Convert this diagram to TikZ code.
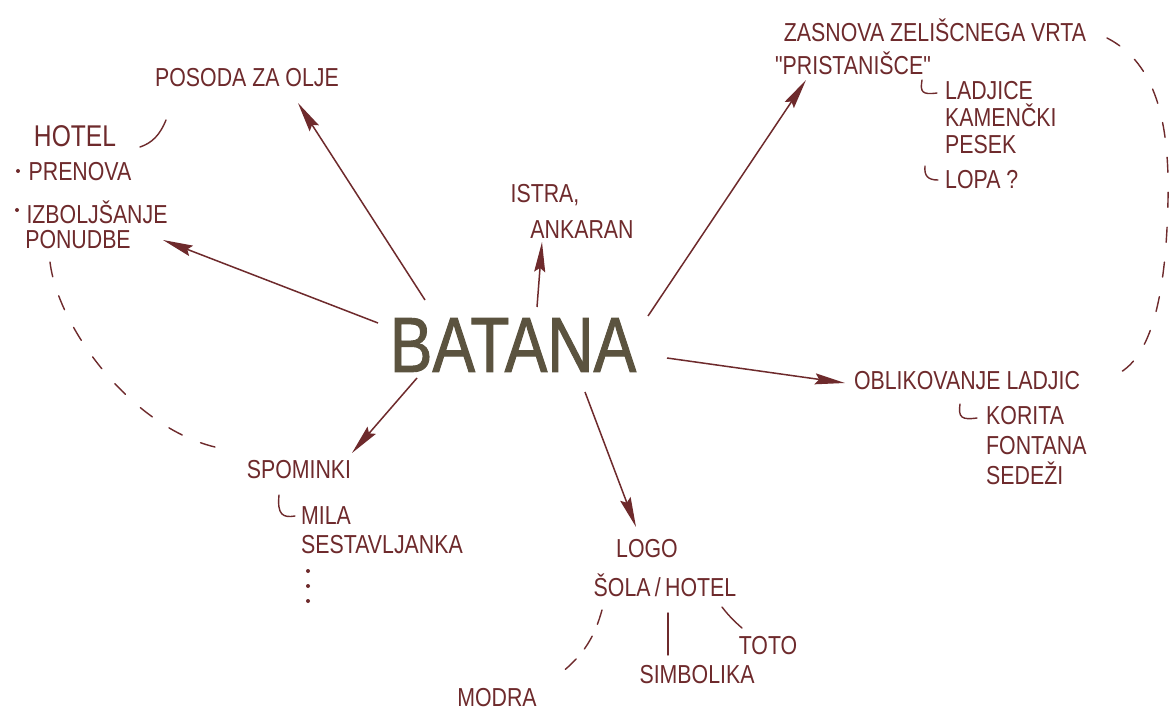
\documentclass[tikz,border=0pt]{standalone}
\usepackage{fontspec}
\setmainfont{Liberation Sans}[FakeStretch=0.82]
\newfontfamily\bigfont{Liberation Sans}[FakeStretch=0.82,FakeBold=1.2]
\newfontfamily\qfont{Liberation Sans}[FakeStretch=0.82,Ligatures=TeXOff]
\usetikzlibrary{arrows.meta}
\definecolor{ink}{HTML}{6E2A2C}
\definecolor{olive}{HTML}{5B533F}
\begin{document}
\begin{tikzpicture}[x=1pt,y=-1pt,
  lbl/.style={text=ink, font=\fontsize{26}{28}\selectfont, inner sep=1pt},
  lst/.style={lbl, align=left, anchor=north west, font=\fontsize{26}{27}\selectfont},
  arr/.style={draw=ink, line width=1.5pt, -{Stealth[length=30pt,width=11pt,inset=4pt]}},
  dsh/.style={draw=ink, line width=1.4pt, dash pattern=on 15pt off 20pt, line cap=round},
  ln/.style={draw=ink, line width=1.4pt, line cap=round},
  dotm/.style={fill=ink, circle, inner sep=0pt, minimum size=4pt}]
\fill[white] (0,0) rectangle (1175,711);
\useasboundingbox (0,0) rectangle (1175,711);

% central node
\node[text=olive, font=\bigfont\fontsize{78}{78}\selectfont, inner sep=0pt] (batana) at (513,345) {BATANA};

% labels
\node[lbl] (posoda) at (247,78) {POSODA ZA OLJE};
\node[lbl, font=\fontsize{30}{30}\selectfont] (hotel) at (75,136) {HOTEL};
\node[lbl] (prenova) at (80,172) {PRENOVA};
\node[lbl] (izb) at (97,212) {IZBOLJŠANJE};
\node[lbl] (ponudbe) at (78,240) {PONUDBE};
\node[dotm] (b1) at (18,171) {};
\node[dotm] (b2) at (17,210) {};
\node[lbl] (istra) at (545,195) {ISTRA,};
\node[lbl] (ankaran) at (582,230) {ANKARAN};
\node[lbl] (zasnova) at (935,30) {ZASNOVA ZELIŠCNEGA VRTA};
\node[lbl] (prist) at (853,63) {{\qfont"}PRISTANIŠCE{\qfont"}};
\node[lst] (ladjice) at (944,80) {LADJICE\\KAMENČKI\\PESEK};
\node[lbl, anchor=west] (lopa) at (944,180) {LOPA ?};
\node[lbl] (oblik) at (967,381) {OBLIKOVANJE LADJIC};
\node[lst, font=\fontsize{26}{30}\selectfont] (korita) at (985,405) {KORITA\\FONTANA\\SEDEŽI};
\node[lbl] (spominki) at (299,470) {SPOMINKI};
\node[lst, font=\fontsize{26}{29}\selectfont] (mila) at (300,505) {MILA\\SESTAVLJANKA};
\node[dotm] (d1) at (308,571) {};
\node[dotm] (d2) at (308,586) {};
\node[dotm] (d3) at (308,601) {};
\node[lbl] (logo) at (647,549) {LOGO};
\node[lbl] (sola) at (665,585) {ŠOLA\,/\,HOTEL};
\node[lbl] (modra) at (497,698) {MODRA};
\node[lbl] (simb) at (697,675) {SIMBOLIKA};
\node[lbl] (toto) at (768,646) {TOTO};

% arrows from BATANA
\draw[arr] ([shift={(-88,-45)}]batana.center) -- ([shift={(51,25)}]posoda.center);
\draw[arr] ([shift={(-135,-22)}]batana.center) -- ([shift={(85,0)}]ponudbe.center);
\draw[arr] ([shift={(24,-38)}]batana.center) -- ([shift={(-40,12)}]ankaran.center);
\draw[arr] ([shift={(135,-29)}]batana.center) -- ([shift={(-47,17)}]prist.center);
\draw[arr] ([shift={(154,13)}]batana.center) -- ([shift={(-8,2)}]oblik.west);
\draw[arr] ([shift={(-96,33)}]batana.center) -- ([shift={(53,-17)}]spominki.center);
\draw[arr] ([shift={(72,47)}]batana.center) -- ([shift={(-11,-22)}]logo.center);

% dashed links
\draw[dsh] ([shift={(-28,22)}]ponudbe.center) .. controls (58,330) and (140,440) .. ([shift={(-67,-20)}]spominki.center);
\draw[dsh] ([shift={(172,8)}]zasnova.center) .. controls (1150,60) and (1170,110) .. (1168,200)
  .. controls (1166,300) and (1150,365) .. ([shift={(143,-4)}]oblik.center);
\draw[ln, dash pattern=on 15pt off 13pt] ([shift={(-63,25)}]sola.center) .. controls (595,635) and (585,655) .. ([shift={(60,-22)}]modra.center);
\draw[ln] ([shift={(3,28)}]sola.center) -- ([shift={(-29,-20)}]simb.center);
\draw[ln] ([shift={(57,22)}]sola.center) .. controls (728,615) and (735,622) .. ([shift={(-26,-18)}]toto.center);

% hooks
\draw[ln] ([shift={(-81,42)}]posoda.center) .. controls (160,135) and (152,143) .. ([shift={(65,11)}]hotel.center);
\draw[ln] ([shift={(-22,0)}]ladjice.north west) .. controls (920,92) and (922,95) .. ([shift={(-7,13)}]ladjice.north west);
\draw[ln] ([shift={(-19,-14)}]lopa.west) .. controls (924,176) and (928,180) .. ([shift={(-6,0)}]lopa.west);
\draw[ln] ([shift={(-25,-1)}]korita.north west) .. controls (958,418) and (962,420) .. ([shift={(-8,13)}]korita.north west);
\draw[ln] ([shift={(-21,-10)}]mila.north west) .. controls (277,515) and (283,518) .. ([shift={(-5,11)}]mila.north west);
\end{tikzpicture}
\end{document}
